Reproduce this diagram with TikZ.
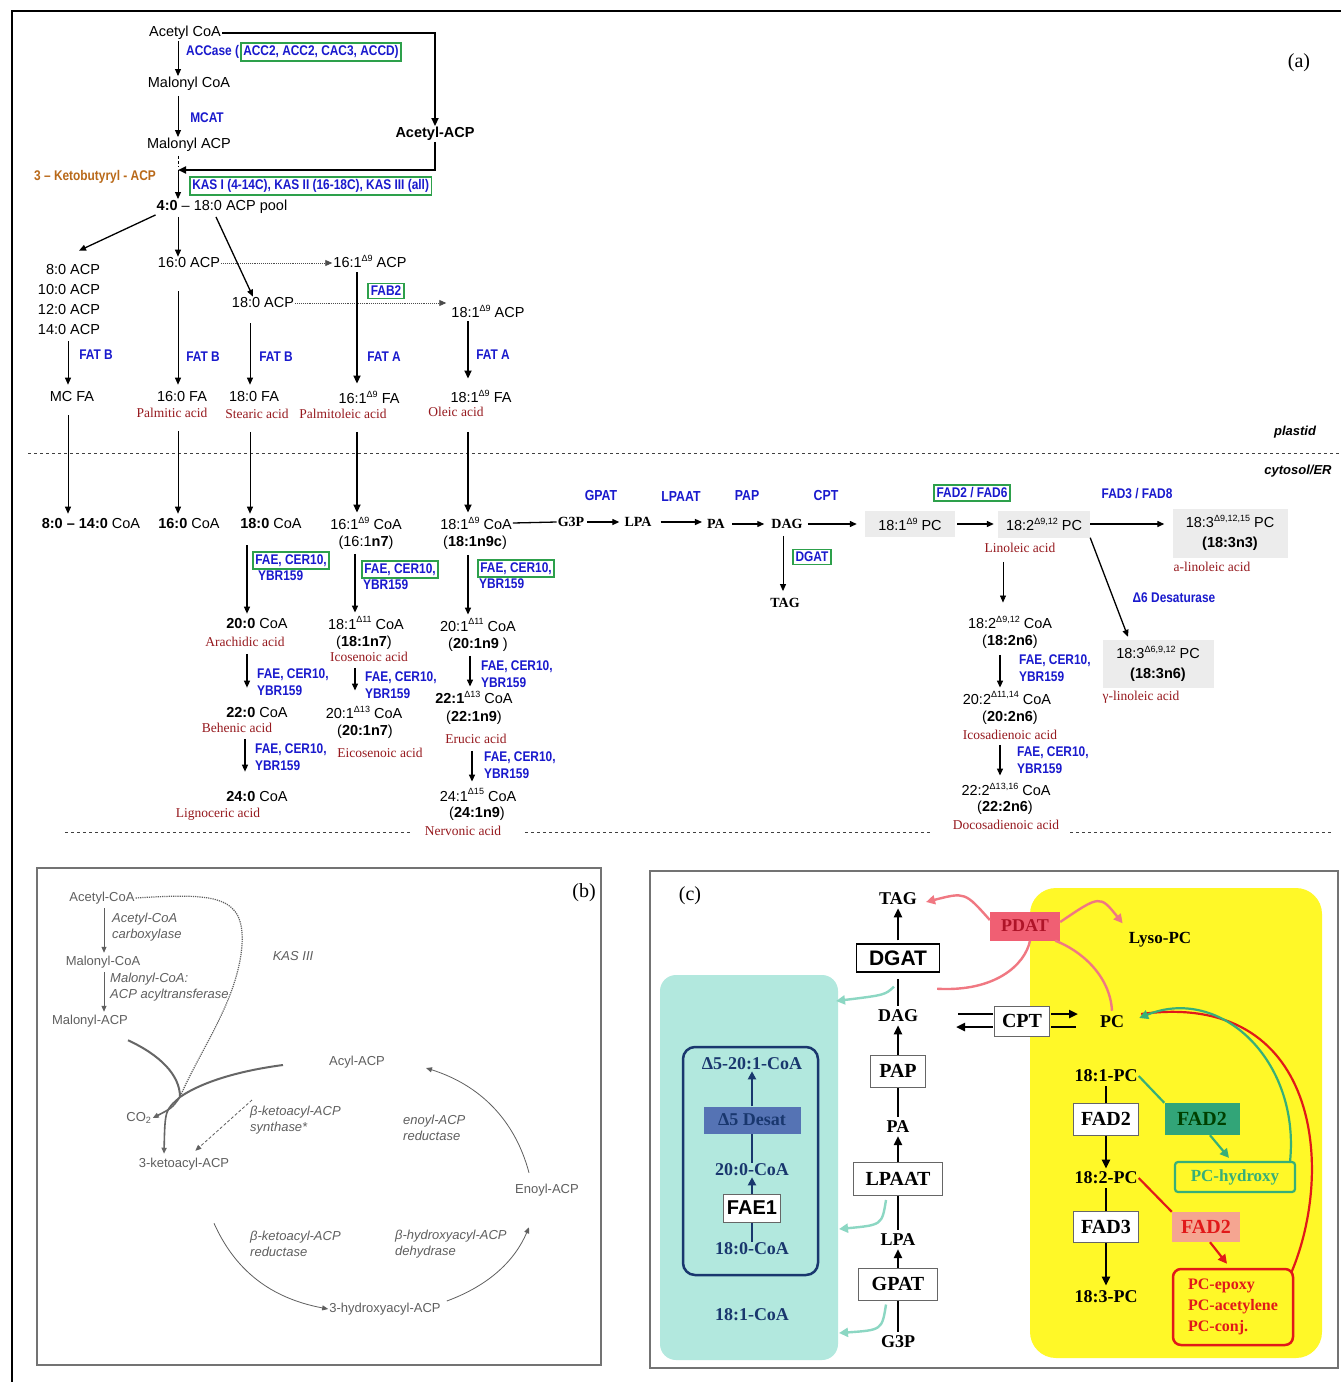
\documentclass[tikz,border=0pt]{standalone}
\usepackage{fontspec}
\setmainfont{Liberation Sans}
\newfontfamily\serifA{Liberation Serif}
\newfontfamily\condA[FakeStretch=0.85]{Liberation Sans}
\usetikzlibrary{arrows.meta,calc}
\definecolor{enz}{RGB}{25,25,205}
\definecolor{acid}{RGB}{150,25,30}
\definecolor{kbcol}{RGB}{185,105,25}
\definecolor{gbox}{RGB}{45,160,75}
\definecolor{pcg}{RGB}{236,236,236}
\definecolor{bgray}{RGB}{95,95,95}
\definecolor{cyanbg}{RGB}{178,232,222}
\definecolor{yel}{RGB}{255,248,40}
\definecolor{navy}{RGB}{25,55,110}
\definecolor{desat}{RGB}{85,115,180}
\definecolor{tealarr}{RGB}{140,215,195}
\definecolor{pdatfill}{RGB}{240,95,115}
\definecolor{pdattxt}{RGB}{175,20,40}
\definecolor{pinkarr}{RGB}{240,120,130}
\definecolor{gfill}{RGB}{50,165,120}
\definecolor{gline}{RGB}{55,175,120}
\definecolor{rline}{RGB}{225,25,25}
\definecolor{salmon}{RGB}{245,165,145}
\newcommand\up[1]{\raisebox{0.42em}{\fontsize{9}{9}\selectfont #1}}
\tikzset{
  txt/.style={font=\fontsize{14.5}{17}\selectfont, inner sep=1pt},
  enzl/.style={font=\condA\bfseries\fontsize{14}{17}\selectfont, text=enz, inner sep=1pt, align=left},
  acl/.style={font=\serifA\fontsize{13.5}{15}\selectfont, text=acid, inner sep=1pt},
  gbx/.style={enzl, draw=gbox, line width=1.6pt, inner sep=2.5pt},
  arr/.style={-{Triangle[length=7pt,width=6pt]}, line width=0.9pt},
  marr/.style={-{Triangle[length=7pt,width=6pt]}, line width=1.3pt},
  tarr/.style={-{Triangle[length=8pt,width=7pt]}, line width=1.9pt},
  dotarr/.style={-{Triangle[length=7pt,width=6pt]}, densely dotted, line width=0.9pt, black!70},
  sbl/.style={font=\serifA\bfseries\fontsize{14}{16}\selectfont, inner sep=1pt},
  pcbox/.style={font=\fontsize{14.5}{20}\selectfont, fill=pcg, inner sep=3pt, align=center},
  bt/.style={font=\fontsize{13}{15}\selectfont, text=bgray, inner sep=1pt},
  bi/.style={font=\itshape\fontsize{13}{15.5}\selectfont, text=bgray, inner sep=1pt, align=left},
  barr/.style={-{Triangle[length=6pt,width=5pt]}, line width=0.8pt, bgray},
  cl/.style={font=\serifA\bfseries\fontsize{18}{20}\selectfont, inner sep=1pt},
  cbox/.style={cl, draw=black!60, fill=white, line width=1pt, inner sep=4pt, font=\serifA\bfseries\fontsize{20}{22}\selectfont},
  carr/.style={-{Triangle[length=9pt,width=8pt]}, line width=2.6pt},
  cln/.style={line width=2.6pt},
}
\begin{document}
\begin{tikzpicture}[x=1pt,y=-1pt]
\useasboundingbox (0,0) rectangle (1341,1382);
\fill[white] (0,0) rectangle (1341,1382);
% ===================== panel (a) =====================
\draw[line width=2pt] (12,1382) -- (12,11) -- (1341,11);
\node[font=\serifA\fontsize{20}{22}\selectfont] (alab) at (1299,63) {(a)};

\node[txt] (acoa) at (185,33) {Acetyl CoA};
\node[txt] (mcoa) at (189,84) {Malonyl CoA};
\node[txt] (macp) at (189,145) {Malonyl ACP};
\node[font=\bfseries\fontsize{14.5}{17}\selectfont, inner sep=1pt] (aacp) at (435,134) {Acetyl-ACP};
\node[enzl, anchor=west] (accase) at (185,52) {ACCase (};
\node[gbx, anchor=west] (accbox) at (240,52) {ACC2, ACC2, CAC3, ACCD)};
\node[enzl] (mcat) at (207,118) {MCAT};
\draw[arr] ($(acoa.south)+(-7,0)$) -- ($(mcoa.north)+(-11,0)$);
\draw[arr] ($(mcoa.south)+(-11,4)$) -- ($(macp.north)+(-11,0)$);
\draw[line width=2pt] (acoa.east) -| ($(aacp.north)+(0,-8)$);
\draw[tarr] ($(aacp.north)+(0,-9)$) -- (aacp.north);
\coordinate (kbj) at (178,170);
\draw[tarr] (aacp.south) |- (kbj);
\draw[densely dashed, line width=0.6pt] ($(macp.south)+(-11,3)$) -- ($(kbj)+(0,-3)$);
\node[font=\condA\bfseries\fontsize{14}{17}\selectfont, text=kbcol, inner sep=1pt] (kb) at (95,177) {3 – Ketobutyryl - ACP};
\node[gbx, anchor=west] (kas) at (189,186) {KAS I (4-14C), KAS II (16-18C), KAS III (all)};
\node[txt] (pool) at (222,207) {\textbf{4:0} – 18:0 ACP pool};
\draw[arr] (kbj) -- (kbj |- pool.north);

\node[txt, align=right, font=\fontsize{14.5}{20}\selectfont] (mc) at (69,300) {8:0 ACP\\10:0 ACP\\12:0 ACP\\14:0 ACP};
\node[txt] (p16) at (189,263) {16:0 ACP};
\node[txt] (p18) at (263,303) {18:0 ACP};
\node[txt] (p161) at (370,261) {16:1\up{Δ9} ACP};
\node[txt] (p181) at (488,311) {18:1\up{Δ9} ACP};
\node[gbx] (fab2) at (386,291) {FAB2};
\draw[marr] (pool.south west) -- ($(mc.north)+(10,-13)$);
\draw[arr] ($(pool.south)+(-44,2)$) -- ($(p16.north)+(-11,0)$);
\draw[marr] ($(pool.south)+(-6,2)$) -- ($(p18.north)+(-10,0)$);
\draw[dotarr] (p16.east) -- (p16.east -| p161.west);
\draw[dotarr] (p18.east) -- ($(p18.east -| p181.west)+(-4,0)$);

\node[txt] (mcfa) at (72,397) {MC FA};
\node[txt] (fa16) at (182,397) {16:0 FA};
\node[txt] (fa18) at (254,397) {18:0 FA};
\node[txt] (fa161) at (369,397) {16:1\up{Δ9} FA};
\node[txt] (fa181) at (481,396) {18:1\up{Δ9} FA};
\node[acl] (palm) at (172,413) {Palmitic acid};
\node[acl] (stea) at (257,414) {Stearic acid};
\node[acl] (pole) at (343,414) {Palmitoleic acid};
\node[acl] (olei) at (456,412) {Oleic acid};
\draw[arr] ($(mc.south)+(-1,5)$) -- ($(mcfa.north)+(-4,-6)$);
\node[enzl] (fatb1) at (96,355) {FAT B};
\draw[arr] ($(p16.south)+(-11,22)$) -- ($(fa16.north)+(-4,-6)$);
\node[enzl] (fatb2) at (203,357) {FAT B};
\draw[arr] ($(p18.south)+(-13,14)$) -- ($(fa18.north)+(-4,-6)$);
\node[enzl] (fatb3) at (276,357) {FAT B};
\draw[tarr] ($(p161.south)+(-13,4)$) -- ($(fa161.north)+(-12,-6)$);
\node[enzl] (fata1) at (384,357) {FAT A};
\draw[tarr] ($(p181.south)+(-20,3)$) -- ($(fa181.north)+(-13,-10)$);
\node[enzl] (fata2) at (493,355) {FAT A};

\draw[dashed, line width=0.9pt, black!75] (28,453) -- (1340,453);
\node[font=\bfseries\itshape\fontsize{13}{15}\selectfont, inner sep=1pt] (plas) at (1295,432) {plastid};
\node[font=\bfseries\itshape\fontsize{13}{15}\selectfont, inner sep=1pt] (cyto) at (1298,471) {cytosol/ER};

\node[txt] (c8) at (91,523) {\textbf{8:0 – 14:0} CoA};
\node[txt] (c16) at (189,523) {\textbf{16:0} CoA};
\node[txt] (c18) at (271,523) {\textbf{18:0} CoA};
\node[txt] (c161) at (366,523) {16:1\up{Δ9} CoA};
\node[txt] (c161n) at (366,543) {(16:1\textbf{n7})};
\node[txt] (c181) at (476,523) {18:1\up{Δ9} CoA};
\node[txt] (c181n) at (475,543) {(\textbf{18:1n9c})};
\draw[arr] ($(mcfa.south)+(-4,12)$) -- ($(c8.north)+(-23,-3)$);
\draw[arr] ($(palm.south)+(6,12)$) -- ($(c16.north)+(-11,-3)$);
\draw[arr] ($(stea.south)+(-7,12)$) -- ($(c18.north)+(-21,-3)$);
\draw[tarr] ($(pole.south)+(14,12)$) -- ($(c161.north)+(-9,-3)$);
\draw[tarr] ($(olei.south)+(12,14)$) -- ($(c181.north)+(-8,-3)$);

% left chain
\node[gbx, anchor=north west] (fe1) at (252,551) {FAE, CER10,};
\node[enzl, anchor=north west] (yb1) at ($(fe1.south west)+(5,0)$) {YBR159};
\node[txt] (c20) at (257,623) {\textbf{20:0} CoA};
\node[acl] (arac) at (245,642) {Arachidic acid};
\draw[marr] ($(c18.south)+(-24,16)$) -- ($(c20.north)+(-10,-3)$);
\node[txt] (c22) at (257,712) {\textbf{22:0} CoA};
\node[acl] (behe) at (237,728) {Behenic acid};
\draw[marr] ($(arac.south)+(2,6)$) -- ($(c22.north)+(-10,-18)$);
\node[enzl, anchor=west] (fe2) at (256,682) {FAE, CER10,\\YBR159};
\node[txt] (c24) at (257,796) {\textbf{24:0} CoA};
\node[acl] (lign) at (218,814) {Lignoceric acid};
\draw[marr] ($(behe.south)+(8,5)$) -- ($(c24.north)+(-12,-18)$);
\node[enzl, anchor=west] (fe3) at (254,757) {FAE, CER10,\\YBR159};

% middle chain
\node[gbx, anchor=north west] (fe4) at (361,560) {FAE, CER10,};
\node[enzl, anchor=north west] (yb4) at ($(fe4.south west)+(1,0)$) {YBR159};
\node[txt] (c181b) at (366,623) {18:1\up{Δ11} CoA};
\node[txt] (c181bn) at (364,643) {(\textbf{18:1n7})};
\node[acl] (icos) at (369,657) {Icosenoic acid};
\draw[marr] ($(c161n.south)+(-11,3)$) -- ($(c181b.north)+(-11,-3)$);
\node[txt] (c201b) at (364,712) {20:1\up{Δ13} CoA};
\node[txt] (c201bn) at (365,732) {(\textbf{20:1n7})};
\node[acl] (eico) at (380,753) {Eicosenoic acid};
\draw[marr] ($(icos.south)+(-14,5)$) -- ($(c201b.north)+(-9,-14)$);
\node[enzl, anchor=west] (fe5) at (364,685) {FAE, CER10,\\YBR159};

% right chain
\node[gbx, anchor=north west] (fe6) at (477,559) {FAE, CER10,};
\node[enzl, anchor=north west] (yb6) at ($(fe6.south west)+(1,0)$) {YBR159};
\node[txt] (c201c) at (478,625) {20:1\up{Δ11} CoA};
\node[txt] (c201cn) at (478,645) {(\textbf{20:1n9} )};
\draw[marr] ($(c181n.south)+(-7,4)$) -- ($(c201c.north)+(-10,-3)$);
\node[txt] (c221) at (474,697) {\textbf{22:1}\up{Δ13} CoA};
\node[txt] (c221n) at (474,718) {(\textbf{22:1n9})};
\node[acl] (eruc) at (476,739) {Erucic acid};
\draw[marr] ($(c201cn.south)+(-8,3)$) -- ($(c221.north)+(-4,-3)$);
\node[enzl, anchor=west] (fe7) at (480,674) {FAE, CER10,\\YBR159};
\node[txt] (c241) at (478,795) {24:1\up{Δ15} CoA};
\node[txt] (c241n) at (477,814) {(\textbf{24:1n9})};
\node[acl] (nerv) at (463,831) {Nervonic acid};
\draw[marr] ($(eruc.south)+(-4,6)$) -- ($(c241.north)+(-6,-6)$);
\node[enzl, anchor=west] (fe8) at (483,765) {FAE, CER10,\\YBR159};

\draw[dash pattern=on 3pt off 3pt, line width=0.9pt, black!75] (65,832) -- (410,832);
\draw[dash pattern=on 3pt off 3pt, line width=0.9pt, black!75] (525,832) -- (930,832);
\draw[dash pattern=on 3pt off 3pt, line width=0.9pt, black!75] (1070,832) -- (1333,832);

% glycerolipid
\node[sbl] (g3p) at (571,522) {G3P};
\node[sbl] (lpa) at (638,522) {LPA};
\node[sbl] (pa) at (716,524) {PA};
\node[sbl] (dag) at (787,524) {DAG};
\node[sbl] (tag) at (785,603) {TAG};
\draw[line width=1.3pt] (c181.east) -- (g3p.west);
\draw[marr, shorten <=2pt, shorten >=4pt] (g3p.east) -- (lpa.west);
\draw[marr, shorten <=8pt, shorten >=4pt] (lpa.east) -- (lpa.east -| pa.west);
\draw[marr, shorten <=6pt, shorten >=6pt] (pa.east) -- (dag.west);
\node[enzl, font=\condA\bfseries\fontsize{14.5}{17}\selectfont] (gpat) at (601,496) {GPAT};
\node[enzl, font=\condA\bfseries\fontsize{14.5}{17}\selectfont] (lpaat) at (681,497) {LPAAT};
\node[enzl, font=\condA\bfseries\fontsize{14.5}{17}\selectfont] (pap) at (747,496) {PAP};
\node[enzl, font=\condA\bfseries\fontsize{14.5}{17}\selectfont] (cpt) at (826,496) {CPT};
\node[pcbox, minimum width=90, minimum height=26] (pc181) at (910,524) {18:1\up{Δ9} PC};
\draw[marr, shorten <=4pt, shorten >=8pt] (dag.east) -- (pc181.west);
\draw[arr, shorten <=6pt, shorten >=6pt] ($(dag.south)+(-4,0)$) -- ($(tag.north)+(-2,0)$);
\node[gbx] (dgat) at (812,557) {DGAT};
\node[pcbox, minimum width=92, minimum height=27] (pc182) at (1044,524) {18:2\up{Δ9,12} PC};
\draw[marr, shorten <=2pt, shorten >=4pt] (pc181.east) -- (pc182.west);
\node[gbx] (fad26) at (972,493) {FAD2 / FAD6};
\node[enzl] (fad38) at (1137,494) {FAD3 / FAD8};
\node[pcbox, minimum width=115, minimum height=49] (pc183) at (1230,533) {18:3\up{Δ9,12,15} PC\\\textbf{(18:3n3)}};
\draw[marr, shorten >=8pt] (pc182.east) -- (pc182.east -| pc183.west);
\node[acl] (alin) at (1212,567) {a-linoleic acid};
\node[acl] (linol) at (1020,548) {Linoleic acid};
\node[pcbox, minimum width=111, minimum height=48] (pc1836) at (1158,664) {18:3\up{Δ6,9,12} PC\\\textbf{(18:3n6)}};
\draw[marr] (pc182.south east) -- ($(pc1836.north)+(-30,-3)$);
\node[enzl] (d6) at (1174,598) {Δ6 Desaturase};
\node[acl] (glin) at (1141,697) {γ-linoleic acid};
\node[txt] (c182) at (1010,622) {18:2\up{Δ9,12} CoA};
\node[txt] (c182n) at (1010,642) {(\textbf{18:2n6})};
\draw[arr, line width=0.7pt] ($(linol.south)+(-17,8)$) -- ($(c182.north)+(-7,-12)$);
\node[txt] (c202) at (1007,698) {20:2\up{Δ11,14} CoA};
\node[txt] (c202n) at (1010,718) {(\textbf{20:2n6})};
\node[acl] (icosd) at (1010,735) {Icosadienoic acid};
\draw[marr] ($(c182n.south)+(-10,5)$) -- ($(c202.north)+(-7,-3)$);
\node[enzl, anchor=west] (fe9) at (1018,668) {FAE, CER10,\\YBR159};
\node[txt] (c222) at (1006,789) {22:2\up{Δ13,16} CoA};
\node[txt] (c222n) at (1005,808) {(\textbf{22:2n6})};
\node[acl] (doco) at (1006,825) {Docosadienoic acid};
\draw[marr] ($(icosd.south)+(-10,4)$) -- ($(c222.north)+(-6,-6)$);
\node[enzl, anchor=west] (fe10) at (1016,760) {FAE, CER10,\\YBR159};

% ===================== panel (b) =====================
\draw[line width=1.8pt, black!55] (37,868) rectangle (601,1365);
\node[font=\serifA\fontsize{20}{22}\selectfont, inner sep=1pt] (blab) at (584,893) {(b)};
\node[bt] (bacoa) at (102,898) {Acetyl-CoA};
\node[bt] (bmcoa) at (103,962) {Malonyl-CoA};
\node[bt] (bmacp) at (90,1021) {Malonyl-ACP};
\node[bi, anchor=west] (bacc) at (111,927) {Acetyl-CoA\\carboxylase};
\node[bi, anchor=west] (bmat) at (109,987) {Malonyl-CoA:\\ACP acyltransferase};
\node[bi] (bkas) at (293,956) {KAS III};
\node[bt] (bacyl) at (357,1062) {Acyl-ACP};
\node[bt] (bco2) at (139,1118) {CO\textsubscript{2}};
\node[bt] (bketo) at (184,1164) {3-ketoacyl-ACP};
\node[bi, anchor=west] (bsyn) at (249,1120) {β-ketoacyl-ACP\\synthase*};
\node[bi, anchor=west] (bred) at (402,1128) {enoyl-ACP\\reductase};
\node[bt] (benoyl) at (547,1190) {Enoyl-ACP};
\node[bi, anchor=west] (bkred) at (249,1244) {β-ketoacyl-ACP\\reductase};
\node[bi, anchor=west] (bdeh) at (394,1244) {β-hydroxyacyl-ACP\\dehydrase};
\node[bt] (bhyd) at (385,1309) {3-hydroxyacyl-ACP};
\draw[barr] ($(bacoa.south)+(2,3)$) -- ($(bmcoa.north)+(1,-2)$);
\draw[barr] ($(bmcoa.south)+(1,3)$) -- ($(bmacp.north)+(14,-2)$);
\coordinate (bj) at (180,1097);
\draw[densely dotted, line width=1.2pt, bgray] (bacoa.east) .. controls (215,893) and (245,895) .. (242,945) .. controls (238,1000) and (200,1050) .. (bj);
\draw[line width=2pt, black!60] ($(bmacp.south)+(38,12)$) .. controls (160,1055) and (180,1075) .. (bj);
\draw[line width=2pt, black!60] ($(bacyl.west)+(-45,3)$) .. controls (245,1070) and (205,1080) .. (bj);
\draw[barr, line width=1.6pt, black!60] (bj) .. controls (172,1108) .. (bco2.east);
\draw[barr, line width=1.6pt, black!60] (bj) .. controls (165,1110) .. ($(bketo.north)+(-20,-3)$);
\draw[barr, densely dashed] ($(bsyn.north west)+(3,-5)$) -- ($(bketo.north east)+(-35,-6)$);
\draw[barr] ($(benoyl.north)+(-18,-10)$) .. controls (515,1120) and (480,1085) .. ($(bacyl.east)+(40,6)$);
\draw[barr] ($(bketo.south)+(30,52)$) .. controls (235,1270) and (270,1298) .. (bhyd.west);
\draw[barr] ($(bhyd.east)+(5,-8)$) .. controls (490,1285) and (515,1260) .. ($(benoyl.south)+(-18,30)$);

% ===================== panel (c) =====================
\draw[line width=1.8pt, black!55] (650,871) rectangle (1338,1368);
\node[font=\serifA\fontsize{20}{22}\selectfont, inner sep=1pt] (clab) at (690,896) {(c)};
\fill[cyanbg, rounded corners=16] (660,975) rectangle (838,1360);
\fill[yel, rounded corners=26] (1030,888) rectangle (1322,1358);
\draw[navy, line width=2.5pt, rounded corners=12] (683,1047) rectangle (818,1275);

\node[cl] (ctag) at (898,899) {TAG};
\node[cbox, font=\bfseries\fontsize{21}{23}\selectfont, minimum width=83, minimum height=28, draw=black, line width=1.3pt] (cdgat) at (898,958) {DGAT};
\node[cl] (cdag) at (898,1016) {DAG};
\node[cbox, minimum width=55, minimum height=32] (cpap) at (898,1071) {PAP};
\node[cl] (cpa) at (898,1127) {PA};
\node[cbox, minimum width=89, minimum height=33] (clpaat) at (898,1179) {LPAAT};
\node[cl] (clpa) at (898,1240) {LPA};
\node[cbox, minimum width=79, minimum height=32] (cgpat) at (898,1284) {GPAT};
\node[cl] (cg3p) at (898,1342) {G3P};
\draw[carr, shorten <=3pt, shorten >=2pt] (cdgat.north) -- (ctag.south);
\draw[cln, shorten <=3pt, shorten >=6pt] (cdag.north) -- (cdgat.south);
\draw[carr, shorten >=2pt] (cpap.north) -- (cdag.south);
\draw[cln, shorten <=3pt] (cpa.north) -- (cpap.south);
\draw[carr, shorten >=2pt] (clpaat.north) -- (cpa.south);
\draw[cln, shorten <=3pt] (clpa.north) -- (clpaat.south);
\draw[carr, shorten >=2pt] (cgpat.north) -- (clpa.south);
\draw[cln, shorten <=3pt] (cg3p.north) -- (cgpat.south);

\draw[-{Triangle[length=9pt,width=9pt]}, line width=2.4pt, tealarr] ($(cdgat.south)+(-4,14)$) .. controls (885,995) .. (836,1001);
\draw[-{Triangle[length=9pt,width=9pt]}, line width=2.4pt, tealarr] ($(clpaat.south)+(-12,4)$) .. controls (882,1225) .. (839,1229);
\draw[-{Triangle[length=9pt,width=9pt]}, line width=2.4pt, tealarr] ($(cgpat.south)+(-12,4)$) .. controls (882,1330) .. (839,1333);

\node[cl, text=navy] (c5201) at (752,1064) {Δ5-20:1-CoA};
\node[cl, text=navy, fill=desat, minimum width=97, minimum height=27, inner sep=3pt] (cdesat) at (752,1120) {Δ5 Desat};
\node[cl, text=navy] (c200) at (752,1170) {20:0-CoA};
\node[cbox, font=\bfseries\fontsize{20}{22}\selectfont, minimum width=57, minimum height=28, inner sep=2pt] (cfae1) at (752,1208) {FAE1};
\node[cl, text=navy] (c180) at (752,1249) {18:0-CoA};
\node[cl, text=navy] (c181coa) at (752,1315) {18:1-CoA};
\draw[-{Triangle[length=8pt,width=8pt]}, line width=2.2pt, navy] (cdesat.north) -- (c5201.south);
\draw[line width=2.2pt, navy] (c200.north) -- (cdesat.south);
\draw[-{Triangle[length=8pt,width=8pt]}, line width=2.2pt, navy] (cfae1.north) -- (c200.south);
\draw[line width=2.2pt, navy] (c180.north) -- (cfae1.south);

\node[cl, text=pdattxt, fill=pdatfill, minimum width=70, minimum height=29, inner sep=2pt] (cpdat) at (1025,926) {PDAT};
\node[cl, font=\serifA\bfseries\fontsize{17}{19}\selectfont] (clyso) at (1160,940) {Lyso-PC};
\node[cl] (cpc) at (1112,1022) {PC};
\node[cbox, minimum width=55, minimum height=30, inner sep=2pt] (ccpt) at (1022,1021) {CPT};
\draw[-{Triangle[length=9pt,width=9pt]}, line width=2.4pt, pinkarr] ($(cpdat.west)+(0,-6)$) .. controls (965,892) .. ($(ctag.east)+(8,3)$);
\draw[-{Triangle[length=9pt,width=9pt]}, line width=2.4pt, pinkarr] ($(cpdat.east)+(0,-4)$) .. controls (1100,895) .. ($(clyso.north west)+(-5,-8)$);
\draw[line width=2.4pt, pinkarr] ($(cdag.north east)+(18,-20)$) .. controls (995,992) and (1025,965) .. ($(cpdat.south)+(5,0)$);
\draw[line width=2.4pt, pinkarr] ($(cpc.north)+(0,-4)$) .. controls (1110,975) and (1080,950) .. ($(cpdat.south east)+(-5,0)$);
\draw[line width=2.6pt] ($(ccpt.west)+(-36,-7)$) -- ($(ccpt.west)+(-1,-7)$);
\draw[-{Triangle[length=9pt,width=8pt]}, line width=2.6pt] ($(ccpt.west)+(-1,6)$) -- ($(ccpt.west)+(-38,6)$);
\draw[-{Triangle[length=9pt,width=8pt]}, line width=2.6pt] ($(ccpt.east)+(1,-7)$) -- ($(ccpt.east)+(28,-7)$);
\draw[line width=2.6pt] ($(ccpt.east)+(1,6)$) -- ($(ccpt.east)+(26,6)$);

\node[cl] (c181pc) at (1106,1076) {18:1-PC};
\node[cbox, minimum width=65, minimum height=32] (cfad2) at (1106,1119) {FAD2};
\node[cl] (c182pc) at (1106,1178) {18:2-PC};
\node[cbox, minimum width=65, minimum height=31] (cfad3) at (1106,1227) {FAD3};
\node[cl] (c183pc) at (1106,1297) {18:3-PC};
\draw[cln, shorten <=3pt] (c181pc.south) -- (cfad2.north);
\draw[carr, shorten >=2pt] (cfad2.south) -- (c182pc.north);
\draw[cln, shorten <=3pt] (c182pc.south) -- (cfad3.north);
\draw[carr, shorten >=4pt] (cfad3.south) -- (c183pc.north);

\node[cl, font=\serifA\bfseries\fontsize{20}{22}\selectfont, text=black!75!green, fill=gfill, minimum width=75, minimum height=32, inner sep=2pt] (cgfad2) at (1202,1119) {FAD2};
\node[cl, font=\serifA\bfseries\fontsize{17}{19}\selectfont, text=gline, draw=gline, line width=2.2pt, rounded corners=3, minimum width=120, minimum height=30] (chyd) at (1235,1177) {PC-hydroxy};
\draw[line width=2.2pt, gline] (c181pc.east) -- (cgfad2.north west);
\draw[-{Triangle[length=9pt,width=9pt]}, line width=2.2pt, gline] ($(cgfad2.south)+(8,0)$) -- ($(chyd.north)+(-6,-3)$);
\node[cl, font=\serifA\bfseries\fontsize{20}{22}\selectfont, text=rline, fill=salmon, minimum width=68, minimum height=30, inner sep=2pt] (crfad2) at (1206,1227) {FAD2};
\node[cl, font=\serifA\bfseries\fontsize{16}{21}\selectfont, text=rline, draw=rline, line width=2.5pt, rounded corners=8, minimum width=120, minimum height=76, align=left] (cprod) at (1233,1307) {PC-epoxy\\PC-acetylene\\PC-conj.};
\draw[line width=2.2pt, rline] (c182pc.east) -- (crfad2.north west);
\draw[-{Triangle[length=9pt,width=9pt]}, line width=2.2pt, rline] ($(crfad2.south)+(4,0)$) -- ($(cprod.north)+(-6,-4)$);
\draw[line width=2.2pt, rline] ($(cprod.north east)+(-3,5)$) .. controls (1335,1170) and (1320,990) .. ($(cpc.east)+(16,-8)$);
\draw[-{Triangle[length=9pt,width=9pt]}, line width=2.2pt, gline] ($(chyd.north east)+(-6,0)$) .. controls (1300,1060) and (1220,985) .. ($(cpc.east)+(14,-4)$);
\end{tikzpicture}
\end{document}
